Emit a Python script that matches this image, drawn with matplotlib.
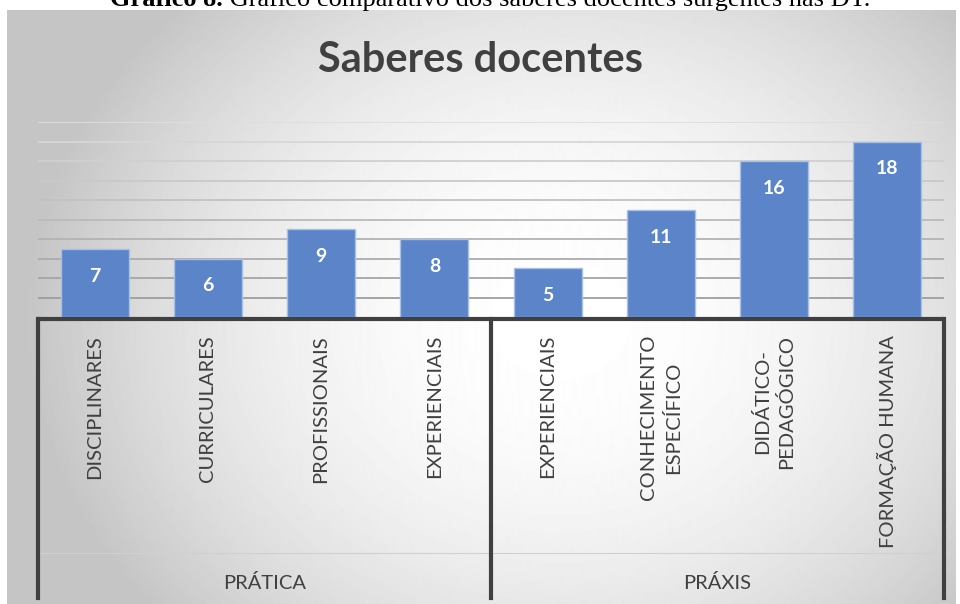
import numpy as np
import matplotlib.pyplot as plt

# data
categorias = ["DISCIPLINARES", "CURRICULARES", "PROFISSIONAIS", "EXPERIENCIAIS",
              "EXPERIENCIAIS", "CONHECIMENTO\nESPECÍFICO", "DIDÁTICO-\nPEDAGÓGICO",
              "FORMAÇÃO HUMANA"]
valores = [7, 6, 9, 8, 5, 11, 16, 18]
grupos = ["PRÁTICA", "PRÁXIS"]
grupo_tamanho = [4, 4]

plt.rcParams['font.family'] = ['Lato', 'DejaVu Sans']

W, H = 960, 604
fig = plt.figure(figsize=(W / 100, H / 100), dpi=100)
fig.patch.set_facecolor("white")

def px_axes(left, top, right, bottom):
    return fig.add_axes([left / W, 1 - bottom / H, (right - left) / W, (bottom - top) / H])

# background box with radial gradient
bx0, by0, bx1, by1 = 7, 10, 955, 604
bg = px_axes(bx0, by0, bx1, by1)
yy, xx = np.mgrid[by0:by1, bx0:bx1]
r = np.sqrt(((xx - 560) / 500) ** 2 + ((yy - 320) / 420) ** 2)
g = np.clip(1 - 0.2 * r ** 2, 0.77, 1.0)
bg.imshow(g, cmap="gray", vmin=0, vmax=1, aspect="auto", extent=[0, 1, 0, 1])
bg.set_xlim(0, 1)
bg.set_ylim(0, 1)
bg.axis("off")

# caption (cut at the top, as in the source)
cap = fig.text(110 / W, 1 - 6 / H, "Gráfico 8.", family="Liberation Serif",
               fontweight="bold", fontsize=19, va="baseline", ha="left")
plt.annotate(" Gráfico comparativo dos saberes docentes surgentes nas DT.",
             xy=(1, 0), xycoords=cap, va="bottom", ha="left",
             family="Liberation Serif", fontsize=19, annotation_clip=False)

# title
fig.text(0.5, 1 - 60 / H, "Saberes docentes", fontsize=30, fontweight="bold",
         color="#404040", ha="center", va="center")

# main plot area
ax = px_axes(38, 122, 944, 317)
ax.patch.set_alpha(0)
x = np.arange(len(valores))
ax.set_xlim(-0.5, len(valores) - 0.5)
ax.set_ylim(0, 20)
for i, yv in enumerate(range(2, 21, 2)):
    c = 0.62 + 0.25 * i / 9
    ax.axhline(yv, color=(c, c, c), lw=1.3, zorder=1)
bars = ax.bar(x, valores, width=0.6, color="#5b84c9", edgecolor="#a9c0e6", lw=1, zorder=2)
for xi, v in zip(x, valores):
    ax.text(xi, v - 2.8, str(v), ha="center", va="center", color="white",
            fontsize=14, fontweight="bold", zorder=3)
ax.axis("off")

# category axis box
ax2 = px_axes(38, 319, 944, 598)
ax2.patch.set_alpha(0)
ax2.set_xlim(-0.5, len(valores) - 0.5)
ax2.set_ylim(0, 1)
ax2.axis("off")
ax2.axhline(0.16, color="#d0d0d0", lw=0.8)
ax2.plot([-0.5, len(valores) - 0.5], [1, 1], color="#404040", lw=3, solid_capstyle="butt", clip_on=False)
pos = -0.5
ax2.plot([pos, pos], [0, 1], color="#404040", lw=3, clip_on=False)
for gname, n in zip(grupos, grupo_tamanho):
    ax2.text(pos + n / 2, 0.055, gname, ha="center", va="center", fontsize=14.5, color="#404040")
    pos += n
    ax2.plot([pos, pos], [0, 1], color="#404040", lw=3, clip_on=False)
for xi, cat in zip(x, categorias):
    ax2.text(xi, 0.943, cat, rotation=90, ha="center", va="top", multialignment="center",
             fontsize=14.5, color="#404040", linespacing=1.45)

fig.savefig("out.png", dpi=100)
